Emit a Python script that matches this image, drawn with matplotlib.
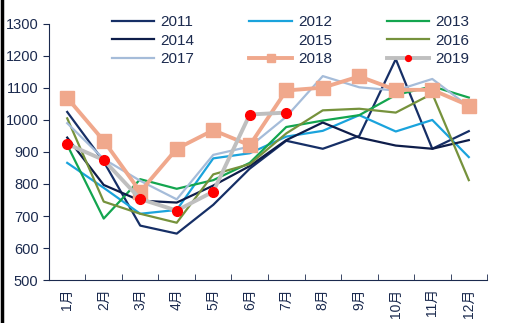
import matplotlib
matplotlib.use("Agg")
import matplotlib.pyplot as plt
from matplotlib.lines import Line2D

plt.rcParams['font.family'] = ['Liberation Sans', 'Noto Sans CJK SC', 'DejaVu Sans']

months = ['1月', '2月', '3月', '4月', '5月', '6月', '7月', '8月', '9月', '10月', '11月', '12月']
v2011 = [1025, 870, 670, 645, 735, 848, 935, 910, 950, 1190, 910, 965]
v2012 = [866, 788, 707, 719, 880, 896, 948, 966, 1015, 964, 1000, 884]
v2013 = [922, 692, 815, 785, 812, 866, 978, 998, 1015, 1078, 1105, 1070]
v2014 = [945, 797, 748, 742, 795, 856, 937, 992, 945, 920, 910, 937]
v2015 = []
v2016 = [1005, 745, 707, 679, 830, 862, 958, 1030, 1035, 1023, 1082, 812]
v2017 = [990, 878, 810, 752, 891, 917, 1010, 1137, 1102, 1092, 1128, 1042]
v2018 = [1069, 935, 776, 910, 968, 921, 1092, 1101, 1136, 1094, 1094, 1045]
v2019 = [925, 875, 753, 717, 776, 1017, 1023]

x = list(range(len(months)))
ink = '#1b2a4e'

fig = plt.figure(figsize=(5.1, 3.23), dpi=100)
ax = fig.add_axes([0.096, 0.133, 0.859, 0.793])

h2011, = ax.plot(x, v2011, color='#162f66', lw=1.6, label='2011')
h2012, = ax.plot(x, v2012, color='#1aa3dc', lw=1.6, label='2012')
h2013, = ax.plot(x, v2013, color='#13a54f', lw=1.6, label='2013')
h2014, = ax.plot(x, v2014, color='#0e1d4a', lw=1.6, label='2014')
h2015, = ax.plot(x[:len(v2015)], v2015, color='white', lw=1.6, label='2015')
h2016, = ax.plot(x, v2016, color='#76923c', lw=1.6, label='2016')
h2017, = ax.plot(x, v2017, color='#a5bcd9', lw=1.6, label='2017')
h2018, = ax.plot(x, v2018, color='#f0a88c', lw=2.8, marker='s', ms=10,
                 label='2018')
h2019, = ax.plot(x[:len(v2019)], v2019, color='#bfbfbf', lw=2.8, marker='o',
                 ms=7, mfc='#ff0000', mec='#ff0000', label='2019')

ax.set_xlim(-0.5, 11.5)
ax.set_ylim(500, 1300)
ax.set_yticks(range(500, 1301, 100))
ax.set_xticks(x)
ax.set_xticklabels(months, rotation=90, fontsize=10, color=ink)
ax.set_xticks([i - 0.5 for i in range(13)], minor=True)
ax.tick_params(axis='x', which='major', length=0, pad=6)
ax.tick_params(axis='x', which='minor', direction='in', length=4, color=ink)
ax.tick_params(axis='y', direction='out', length=4, color=ink, labelcolor=ink,
               labelsize=10.5)
for side in ['top', 'right']:
    ax.spines[side].set_visible(False)
for side in ['left', 'bottom']:
    ax.spines[side].set_color(ink)

# one legend per column so each column sits where the reference has it
columns = [([h2011, h2014, h2017], 0.192),
           ([h2012, h2015, h2018], 0.462),
           ([h2013, h2016, h2019], 0.731)]
for col, left in columns:
    leg = fig.legend(handles=col, loc='upper left',
                     bbox_to_anchor=(left, 0.995), frameon=False, fontsize=11,
                     handlelength=2.8, handletextpad=0.4,
                     labelspacing=0.28, markerscale=0.6)
    for t in leg.get_texts():
        t.set_color(ink)

fig.add_artist(Line2D([0.003, 0.003], [0, 1], color='black', lw=2.5,
                      transform=fig.transFigure))

fig.savefig('out.png', dpi=100)
